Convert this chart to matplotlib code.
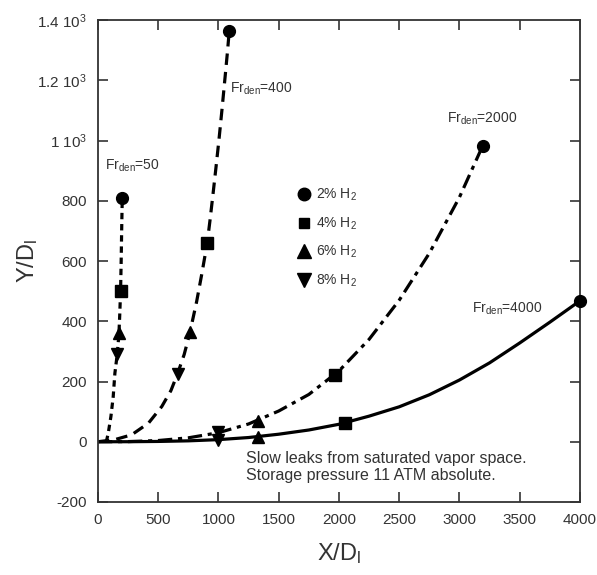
import matplotlib
matplotlib.use('Agg')
import matplotlib.pyplot as plt
from matplotlib.lines import Line2D

plt.rcParams['font.family'] = ['Liberation Sans', 'DejaVu Sans']
plt.rcParams['mathtext.default'] = 'regular'

# curves (one per Froude number)
fr50_x = [65, 72, 86, 108, 127, 141, 160, 174, 181, 188, 193, 197, 202]
fr50_y = [0, 4, 29, 84, 150, 228, 289, 355, 420, 499, 600, 700, 809]

fr400_x = [0, 140, 280, 420, 530, 606, 661, 716, 763, 819, 861, 907,
           930, 955, 980, 1005, 1030, 1055, 1075, 1090]
fr400_y = [0, 7, 23, 62, 117, 170, 226, 290, 362, 465, 555, 660,
           735, 822, 912, 1005, 1105, 1210, 1295, 1365]

fr2000_x = [0, 250, 500, 750, 1000, 1250, 1500, 1750, 2000, 2250, 2500,
            2750, 3000, 3193]
fr2000_y = [0, 0.5, 4, 13, 30, 59, 102, 157, 235, 340, 470, 626, 812, 983]

fr4000_x = [0, 250, 500, 750, 1000, 1250, 1500, 1750, 2000, 2250, 2500,
            2750, 3000, 3250, 3500, 3750, 4000]
fr4000_y = [0, 0.1, 1, 3, 7, 14, 25, 39, 58, 85, 116, 156, 205, 262, 328,
            397, 468]

# markers: order Fr=50, 400, 2000, 4000
h2_2_x = [202, 1090, 3193, 4000]
h2_2_y = [809, 1365, 983, 468]
h2_4_x = [188, 907, 1967, 2050]
h2_4_y = [499, 660, 222, 62]
h2_6_x = [176, 765, 1331, 1331]
h2_6_y = [360, 365, 68, 15]
h2_8_x = [162, 661, 999, 999]
h2_8_y = [292, 226, 31, 5]

fig = plt.figure(figsize=(5.97, 5.75), dpi=100)
ax = fig.add_axes([0.164, 0.127, 0.8075, 0.838])

lw = 2.3
ax.plot(fr50_x, fr50_y, color='black', lw=lw, dashes=(2, 1.5))
ax.plot(fr400_x, fr400_y, color='black', lw=lw, dashes=(3.6, 2.2))
ax.plot(fr2000_x, fr2000_y, color='black', lw=lw, dashes=(4.5, 1.8, 1.3, 1.8))
ax.plot(fr4000_x, fr4000_y, color='black', lw=lw)

ms = 8.5
ax.plot(h2_2_x, h2_2_y, 'o', color='black', ms=ms, clip_on=False, zorder=5)
ax.plot(h2_4_x, h2_4_y, 's', color='black', ms=ms - 0.5, clip_on=False, zorder=5)
ax.plot(h2_6_x, h2_6_y, '^', color='black', ms=ms + 0.5, clip_on=False, zorder=5)
ax.plot(h2_8_x, h2_8_y, 'v', color='black', ms=ms + 0.5, clip_on=False, zorder=5)

handles = [Line2D([], [], ls='none', marker=m, color='black', ms=s)
           for m, s in [('o', 9), ('s', 7), ('^', 9.5), ('v', 9.5)]]
labels = ['2% H$_2$', '4% H$_2$', '6% H$_2$', '8% H$_2$']
leg = ax.legend(handles, labels, loc='upper left', bbox_to_anchor=(0.385, 0.68),
                frameon=False, fontsize=10, handletextpad=0.25, labelspacing=0.88,
                handlelength=1.2)
for t in leg.get_texts():
    t.set_color('#333333')

txt = dict(color='#333333', fontsize=10)
ax.text(60, 905, 'Fr$_{den}$=50', **txt)
ax.text(1100, 1158, 'Fr$_{den}$=400', **txt)
ax.text(2900, 1060, 'Fr$_{den}$=2000', **txt)
ax.text(3100, 428, 'Fr$_{den}$=4000', **txt)
ax.text(1230, -30, 'Slow leaks from saturated vapor space.\nStorage pressure 11 ATM absolute.',
        va='top', ha='left', color='#333333', fontsize=11.5, linespacing=1.2)

ax.set_xlim(0, 4000)
ax.set_ylim(-200, 1400)
ax.set_xticks(range(0, 4001, 500))
ax.set_yticks(range(-200, 1401, 200))
ax.set_yticklabels(['-200', '0', '200', '400', '600', '800',
                    '1 10$^3$', '1.2 10$^3$', '1.4 10$^3$'])
ax.tick_params(direction='in', length=7, width=1.2, top=True, right=True,
               labelsize=11, colors='#333333', pad=8)
for sp in ax.spines.values():
    sp.set_linewidth(1.3)
    sp.set_color('#333333')

ax.set_xlabel('X/D$_l$', fontsize=17, color='#333333', labelpad=10)
ax.set_ylabel('Y/D$_l$', fontsize=17, color='#333333', labelpad=-2)

fig.savefig('out.png', dpi=100)
